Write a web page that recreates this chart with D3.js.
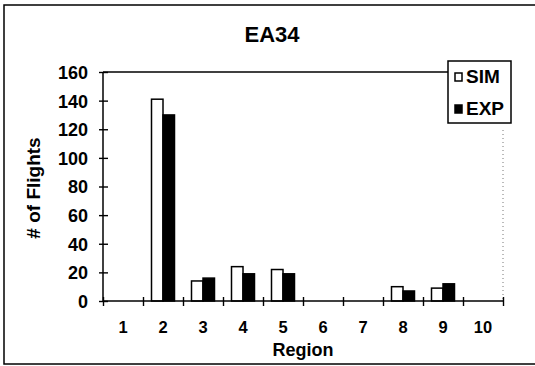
<!DOCTYPE html>
<html>
<head>
<meta charset="utf-8">
<script src="https://cdn.jsdelivr.net/npm/d3@7"></script>
<style>
  html, body { margin: 0; padding: 0; background: #fff; }
  svg { display: block; }
  text { font-family: "Liberation Sans", Arial, Helvetica, sans-serif; font-weight: bold; fill: #000; }
</style>
</head>
<body>
<svg id="chart" width="535" height="366"></svg>
<script>
// Flights per region for EA34, simulated vs. experimental
const regions = ["1", "2", "3", "4", "5", "6", "7", "8", "9", "10"];
const simValues = [0, 141, 14, 24, 22, 0, 0, 10, 9, 0];
const expValues = [0, 130, 16, 19, 19, 0, 0, 7, 12, 0];
const seriesNames = ["SIM", "EXP"];
const yTicks = [0, 20, 40, 60, 80, 100, 120, 140, 160];

const rows = regions.map((r, i) => ({ region: r, SIM: simValues[i], EXP: expValues[i] }));

const svg = d3.select("#chart");
const plot = { left: 103, right: 503, top: 72, bottom: 301 };

// outer frame (right edge runs off the page)
svg.append("rect")
  .attr("x", 4).attr("y", 5).attr("width", 540).attr("height", 359)
  .attr("fill", "none").attr("stroke", "#000").attr("stroke-width", 1.5);

const x = d3.scaleBand().domain(regions)
  .range([plot.left, plot.right]).paddingInner(0.425).paddingOuter(0.2125);
const xSeries = d3.scaleBand().domain(seriesNames).range([0, x.bandwidth()]);
const xEdges = d3.scaleLinear().domain([0, regions.length]).range([plot.left, plot.right]);
const y = d3.scaleLinear().domain([0, 160]).range([plot.bottom, plot.top]);
const fills = { SIM: "#fff", EXP: "#000" };

// top border of plot area, up to the legend
svg.append("line")
  .attr("x1", plot.left).attr("x2", 448)
  .attr("y1", y(160)).attr("y2", y(160))
  .attr("stroke", "#000").attr("stroke-width", 1.3);

// faint dotted right edge
svg.append("line")
  .attr("x1", plot.right).attr("x2", plot.right)
  .attr("y1", 130).attr("y2", plot.bottom)
  .attr("stroke", "#777").attr("stroke-width", 1).attr("stroke-dasharray", "1,3");

// bars
const groups = svg.append("g").selectAll("g").data(rows).join("g")
  .attr("transform", d => `translate(${x(d.region)},0)`);
groups.selectAll("rect")
  .data(d => seriesNames.map(k => ({ key: k, value: d[k] })).filter(e => e.value > 0))
  .join("rect")
  .attr("x", e => xSeries(e.key))
  .attr("width", xSeries.bandwidth())
  .attr("y", e => y(e.value))
  .attr("height", e => y(0) - y(e.value))
  .attr("fill", e => fills[e.key])
  .attr("stroke", "#000").attr("stroke-width", 1.5);

// y axis
const yAxis = svg.append("g").attr("transform", `translate(${plot.left},0)`)
  .call(d3.axisLeft(y).tickValues(yTicks).tickSize(4).tickPadding(11));
yAxis.select(".domain").attr("stroke", "#000").attr("stroke-width", 1.5).attr("d", `M0,${plot.top}V${plot.bottom}`);
yAxis.selectAll(".tick line").attr("x1", -4).attr("x2", 5).attr("stroke-width", 1.4);
yAxis.selectAll(".tick text").style("font-size", "18px").attr("dy", "0.36em");

// x axis: tick marks on band edges
const xAxis = svg.append("g").attr("transform", `translate(0,${plot.bottom})`)
  .call(d3.axisBottom(xEdges).tickValues(d3.range(0, regions.length + 1)).tickFormat("").tickSize(5));
xAxis.select(".domain").attr("stroke", "#000").attr("stroke-width", 1.5).attr("d", `M${plot.left},0H${plot.right}`);
xAxis.selectAll(".tick line").attr("y1", -4).attr("y2", 5).attr("stroke-width", 1.4);

// x labels centred in bands
const xLabels = svg.append("g").attr("transform", `translate(0,${plot.bottom})`)
  .call(d3.axisBottom(x).tickSize(0).tickPadding(20));
xLabels.select(".domain").remove();
xLabels.selectAll(".tick text").style("font-size", "16.5px");

// title and axis titles
svg.append("text").attr("x", 272).attr("y", 42).attr("text-anchor", "middle")
  .style("font-size", "22px").text("EA34");
svg.append("text").attr("x", (plot.left + plot.right) / 2).attr("y", 356).attr("text-anchor", "middle")
  .style("font-size", "18px").text("Region");
svg.append("text").attr("transform", "translate(40,188) rotate(-90)").attr("text-anchor", "middle")
  .style("font-size", "19px").text("# of Flights");

// legend
const lg = svg.append("g");
lg.append("rect").attr("x", 448).attr("y", 61).attr("width", 63).attr("height", 62)
  .attr("fill", "#fff").attr("stroke", "#000").attr("stroke-width", 1.5);
seriesNames.forEach((k, i) => {
  const cy = 77 + i * 32;
  lg.append("rect").attr("x", 455).attr("y", cy - 4).attr("width", 7).attr("height", 8)
    .attr("fill", fills[k]).attr("stroke", "#000").attr("stroke-width", 1.5);
  lg.append("text").attr("x", 466).attr("y", cy + 6).style("font-size", "19px").text(k);
});
</script>
</body>
</html>
